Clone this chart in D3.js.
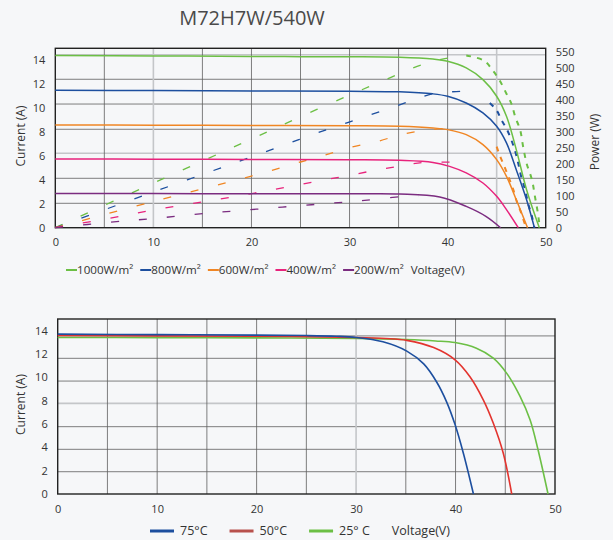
<!DOCTYPE html>
<html>
<head>
<meta charset="utf-8">
<script src="https://cdn.jsdelivr.net/npm/d3@7"></script>
<style>
  body { margin: 0; background: #f6f7f9; }
  svg text { font-family: "Open Sans", sans-serif; fill: #333; }
</style>
</head>
<body>
<svg id="chart" width="613" height="540"></svg>
<script>
// ---- data ----
var xTicks = [0, 10, 20, 30, 40, 50];
var currentTicks = [0, 2, 4, 6, 8, 10, 12, 14];
var powerTicks = [0, 50, 100, 150, 200, 250, 300, 350, 400, 450, 500, 550];

var irrNames = ['1000W/m²', '800W/m²', '600W/m²', '400W/m²', '200W/m²'];

// I-V curves, one per irradiance
var iv1000V = [0, 10, 20, 25, 30, 35.1, 38.5, 40, 41.9, 43.6, 45, 46, 47, 48.05, 49.35];
var iv1000I = [14.39, 14.36, 14.32, 14.3, 14.29, 14.25, 14.1, 13.92, 13.36, 12.38, 10.99, 9.31, 6.53, 3.18, 0];
var iv800V = [0, 10, 20, 30, 35.1, 38.5, 40, 41.9, 43.6, 45, 46, 47, 48.05, 48.85];
var iv800I = [11.49, 11.47, 11.44, 11.4, 11.36, 11.19, 10.99, 10.43, 9.6, 8.48, 7.09, 4.85, 2.34, 0];
var iv600V = [0, 10, 20, 30, 35.1, 38.5, 40, 41.9, 43.6, 45, 46, 47, 48.15];
var iv600I = [8.59, 8.57, 8.55, 8.52, 8.48, 8.34, 8.2, 7.78, 6.95, 5.69, 4.29, 2.34, 0];
var iv400V = [0, 10, 20, 30, 35.1, 38.5, 40.2, 41.9, 43.6, 45, 46, 47.2];
var iv400I = [5.75, 5.73, 5.71, 5.68, 5.63, 5.46, 5.13, 4.58, 3.74, 2.62, 1.51, 0];
var iv200V = [0, 10, 20, 30, 35.1, 39.2, 41.9, 43.9, 45.4];
var iv200I = [2.85, 2.85, 2.84, 2.83, 2.82, 2.57, 1.78, 0.95, 0];

// P-V curves, rising part (long dashes) and falling part (short dashes)
var pv1000RiseV = [0, 10, 20, 25, 30, 33.6, 36.4, 39.2, 41.9];
var pv1000RiseP = [0, 140, 278, 348, 416, 463, 500, 527, 540];
var pv1000FallV = [41.9, 43.7, 44.6, 45.3, 46, 46.5, 46.9, 47.4, 47.7, 48.05, 48.6, 48.9, 49.2, 49.4];
var pv1000FallP = [540, 524, 493, 462, 420, 389, 347, 306, 254, 202, 150, 98, 46, 0];
var pv800RiseV = [0, 10, 20, 24.9, 28, 30.7, 33.4, 36.1, 38.5, 41.6];
var pv800RiseP = [0, 112, 222, 277, 311, 339, 367, 396, 420, 428];
var pv800FallV = [44.3, 45, 45.5, 46, 46.5, 46.9, 47.2, 47.5, 47.9, 48.2, 48.6, 48.85];
var pv800FallP = [391, 368, 337, 311, 275, 238, 202, 160, 119, 77, 35, 0];
var pv600RiseV = [0, 10, 20, 25, 27.3, 30, 32.9, 35.4, 38.2, 41];
var pv600RiseP = [0, 82, 162, 206, 226, 251, 271, 293, 307, 314];
var pv600FallV = [45, 45.3, 45.8, 46.2, 46.7, 47, 47.5, 48];
var pv600FallP = [254, 228, 191, 160, 119, 87, 46, 0];
var pv400RiseV = [0, 5.6, 11, 16.8, 22.2, 26.9, 29.6, 32.3, 34.9, 37.6, 40.5];
var pv400RiseP = [0, 30, 61, 90, 119, 147, 162, 178, 192, 205, 205];
var pv200RiseV = [0, 5.6, 10.4, 15.4, 20.5, 26.1, 31, 35.6, 37];
var pv200RiseP = [0, 17, 30, 45, 58, 72, 84, 98, 99];

// temperature I-V curves
var tempNames = ['75°C', '50°C', '25° C'];
var t75V = [0, 10, 20, 25, 28, 30, 32.7, 35.1, 36.8, 38.1, 39.1, 39.95, 40.8, 41.8];
var t75I = [13.7, 13.66, 13.62, 13.58, 13.52, 13.42, 13.05, 12.25, 11.15, 9.6, 7.9, 5.95, 3.45, 0];
var t50V = [0, 10, 20, 30, 33, 35.1, 37.8, 39.95, 41.45, 42.8, 43.8, 44.8, 45.65];
var t50I = [13.58, 13.55, 13.52, 13.42, 13.33, 13.17, 12.55, 11.5, 10.05, 8.05, 6.06, 3.49, 0];
var t25V = [0, 10, 20, 30, 35, 38, 39.95, 42.1, 43.8, 45.15, 46.5, 47.5, 48.3, 49.3];
var t25I = [13.42, 13.4, 13.38, 13.34, 13.24, 13.12, 12.98, 12.5, 11.65, 10.34, 8.34, 6.34, 3.77, 0];

// ---- styles ----
var irrColors = ['#6cbf45', '#1d4f9f', '#f08624', '#e8237c', '#7b2c80'];
var tempColors = ['#1d4f9f', '#e3342f', '#6cbf45'];
var tempSwatch = ['#1d4f9f', '#b8514d', '#6cbf45'];
var grid_color = '#5e5e5e',
    grid_light = '#c4c6c9',
    frame_color = '#222';

// gridlines of the picture do not sit on the tick labels
var topGridI = [2.04, 4.13, 6.22, 8.23, 10.34, 12.41, 14.46];
var botGridI = [1.91, 3.83, 5.77, 7.77, 9.68, 11.63, 13.55];
var gridV = [5, 10, 15, 20, 25, 30, 35, 40, 45];

function zip(xs, ys) {
  return xs.map(function (x, i) { return [x, ys[i]]; });
}

var svg = d3.select('#chart');

svg.append('text')
  .attr('x', 252).attr('y', 25)
  .attr('text-anchor', 'middle')
  .style('font-size', '20px')
  .style('fill', '#4a4a4a')
  .text('M72H7W/540W');

/**
* Draws a framed panel with grid and ticks, returns its scales
*/
function drawPanel(g, x0, x1, yTop, yBot, gridI, lightI, lightV) {
  var x = d3.scaleLinear().domain([0, 50]).range([x0, x1]);
  var y = d3.scaleLinear().domain([0, 15]).range([yBot, yTop]);

  g.append('g').selectAll('line').data(gridI).join('line')
    .attr('x1', x0).attr('x2', x1)
    .attr('y1', function (d) { return y(d); })
    .attr('y2', function (d) { return y(d); })
    .attr('stroke', function (d) { return lightI.indexOf(d) >= 0 ? grid_light : grid_color; })
    .attr('stroke-width', function (d) { return lightI.indexOf(d) >= 0 ? 1.6 : 0.8; });

  g.append('g').selectAll('line').data(gridV).join('line')
    .attr('y1', yTop).attr('y2', yBot)
    .attr('x1', function (d) { return x(d); })
    .attr('x2', function (d) { return x(d); })
    .attr('stroke', function (d) { return lightV.indexOf(d) >= 0 ? grid_light : grid_color; })
    .attr('stroke-width', function (d) { return lightV.indexOf(d) >= 0 ? 1.6 : 0.8; });

  g.append('rect')
    .attr('x', x0).attr('y', yTop)
    .attr('width', x1 - x0).attr('height', yBot - yTop)
    .attr('fill', 'none')
    .attr('stroke', frame_color)
    .attr('stroke-width', 1.4);

  var xAxis = d3.axisBottom(x).tickValues(xTicks).tickSize(0).tickPadding(11);
  g.append('g').attr('transform', 'translate(0,' + yBot + ')').call(xAxis)
    .call(function (a) { a.select('.domain').remove(); })
    .selectAll('text').style('font-size', '11px').style('fill', '#333');

  var yAxis = d3.axisLeft(y).tickValues(currentTicks).tickSize(0).tickPadding(10);
  g.append('g').attr('transform', 'translate(' + x0 + ',0)').call(yAxis)
    .call(function (a) { a.select('.domain').remove(); })
    .selectAll('text').style('font-size', '11px').style('fill', '#333');

  g.append('text')
    .attr('transform', 'translate(21,' + ((yTop + yBot) / 2 - 2) + ') rotate(-90)')
    .attr('text-anchor', 'middle')
    .attr('dy', '0.35em')
    .style('font-size', '12px')
    .text('Current (A)');

  return { x: x, y: y };
}

/**
* Flow legend: swatch, label, gap
*/
function drawLegend(g, startX, cy, items, swLen, swWidth, txtGap, itemGap, fontSize) {
  var cx = startX;
  items.forEach(function (it) {
    if (it.color) {
      g.append('line')
        .attr('x1', cx).attr('x2', cx + swLen)
        .attr('y1', cy).attr('y2', cy)
        .attr('stroke', it.color)
        .attr('stroke-width', swWidth);
      cx += swLen + txtGap;
    }
    var t = g.append('text')
      .attr('x', cx).attr('y', cy)
      .attr('dy', '0.35em')
      .style('font-size', fontSize)
      .text(it.label);
    cx += t.node().getComputedTextLength() + itemGap;
  });
}

// ---- top panel: irradiance ----
var topPanel = svg.append('g');
var ts = drawPanel(topPanel, 55.3, 545.7, 48.3, 227.7, topGridI, [6.22, 14.46], [10, 45]);
var yPow = d3.scaleLinear().domain([0, 562.5]).range([227.7, 48.3]);

var pAxis = d3.axisRight(yPow).tickValues(powerTicks).tickSize(0).tickPadding(10);
topPanel.append('g').attr('transform', 'translate(545.7,0)').call(pAxis)
  .call(function (a) { a.select('.domain').remove(); })
  .selectAll('text').style('font-size', '11px').style('fill', '#333');

topPanel.append('text')
  .attr('transform', 'translate(595,142) rotate(-90)')
  .attr('text-anchor', 'middle')
  .attr('dy', '0.35em')
  .style('font-size', '12px')
  .text('Power (W)');

var smooth = d3.curveCatmullRom.alpha(0.5);
var ivLine = d3.line()
  .x(function (d) { return ts.x(d[0]); })
  .y(function (d) { return ts.y(d[1]); })
  .curve(smooth);
var pvLine = d3.line()
  .x(function (d) { return ts.x(d[0]); })
  .y(function (d) { return yPow(d[1]); })
  .curve(smooth);

var ivSets = [zip(iv1000V, iv1000I), zip(iv800V, iv800I), zip(iv600V, iv600I), zip(iv400V, iv400I), zip(iv200V, iv200I)];
var pvRise = [zip(pv1000RiseV, pv1000RiseP), zip(pv800RiseV, pv800RiseP), zip(pv600RiseV, pv600RiseP),
              zip(pv400RiseV, pv400RiseP), zip(pv200RiseV, pv200RiseP)];
var pvFall = [zip(pv1000FallV, pv1000FallP), zip(pv800FallV, pv800FallP), zip(pv600FallV, pv600FallP)];

pvRise.forEach(function (d, i) {
  topPanel.append('path').datum(d)
    .attr('d', pvLine)
    .attr('fill', 'none')
    .attr('stroke', irrColors[i])
    .attr('stroke-width', 1.3)
    .attr('stroke-dasharray', '8,20');
});
pvFall.forEach(function (d, i) {
  topPanel.append('path').datum(d)
    .attr('d', pvLine)
    .attr('fill', 'none')
    .attr('stroke', irrColors[i])
    .attr('stroke-width', 2)
    .attr('stroke-dasharray', '5,6');
});
ivSets.forEach(function (d, i) {
  topPanel.append('path').datum(d)
    .attr('d', ivLine)
    .attr('fill', 'none')
    .attr('stroke', irrColors[i])
    .attr('stroke-width', 1.5);
});

var topLegend = irrNames.map(function (n, i) { return { label: n, color: irrColors[i] }; });
topLegend.push({ label: 'Voltage(V)' });
drawLegend(topPanel, 66, 270, topLegend, 11, 2, 0, 7, '11.6px');

// ---- bottom panel: temperature ----
var botPanel = svg.append('g');
var bs = drawPanel(botPanel, 57.7, 555, 319, 494, botGridI, [7.77], [30]);

var tLine = d3.line()
  .x(function (d) { return bs.x(d[0]); })
  .y(function (d) { return bs.y(d[1]); })
  .curve(smooth);

var tSets = [zip(t25V, t25I), zip(t50V, t50I), zip(t75V, t75I)];
var tOrder = [2, 1, 0];
tSets.forEach(function (d, k) {
  botPanel.append('path').datum(d)
    .attr('d', tLine)
    .attr('fill', 'none')
    .attr('stroke', tempColors[tOrder[k]])
    .attr('stroke-width', 1.6);
});

var botLegend = tempNames.map(function (n, i) { return { label: n, color: tempSwatch[i] }; });
botLegend.push({ label: 'Voltage(V)' });
drawLegend(botPanel, 150, 531, botLegend, 24, 3, 6, 22, '12.5px');
</script>
</body>
</html>
